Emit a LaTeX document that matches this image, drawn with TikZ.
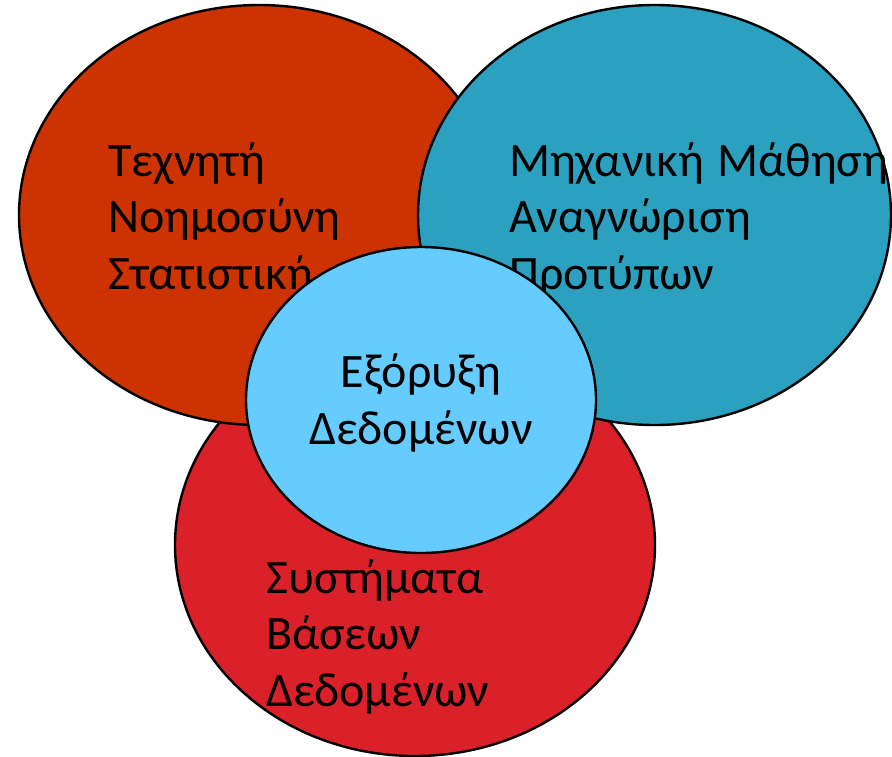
\documentclass[tikz,border=0pt]{standalone}
\usepackage{fontspec}
\setmainfont{Carlito}
\usetikzlibrary{shapes.geometric}
\definecolor{aiorange}{RGB}{204,51,0}
\definecolor{mlteal}{RGB}{44,161,191}
\definecolor{dbred}{RGB}{218,32,40}
\definecolor{dmblue}{RGB}{102,204,255}

\begin{document}
\begin{tikzpicture}[x=1pt,y=-1pt]
  \tikzset{field/.style={ellipse,draw=black,line width=2.4pt,inner sep=0pt},
           fieldtext/.style={font=\fontsize{48}{56.5}\selectfont,inner sep=0pt,align=left,anchor=base west}}
  \useasboundingbox (0,0) rectangle (892,756);
  % the four fields, back to front (base = last line)
  \node[field,fill=dbred,minimum width=480pt,minimum height=422pt] (db) at (415,545) {};
  \node[field,fill=aiorange,minimum width=480pt,minimum height=420pt] (ai) at (259,215) {};
  \node[fieldtext] (aitext) at (108,289) {Τεχνητή\\Νοημοσύνη\\Στατιστική};
  \node[field,fill=mlteal,minimum width=473pt,minimum height=420pt] (ml) at (654.5,215) {};
  \node[fieldtext] (mltext) at (509,289) {Μηχανική\kern2pt{} Μάθηση\\Αναγνώριση\\Προτύπων};
  \node[field,fill=dmblue,minimum width=350pt,minimum height=306pt] (dm) at (421,400) {};
  \node[fieldtext,align=center,anchor=base] (dmtext) at (421,444) {Εξόρυξη\\Δεδομένων};
  \node[fieldtext] (dbtext) at (266,706) {Συστήματα\\Βάσεων\\Δεδομένων};
\end{tikzpicture}
\end{document}
